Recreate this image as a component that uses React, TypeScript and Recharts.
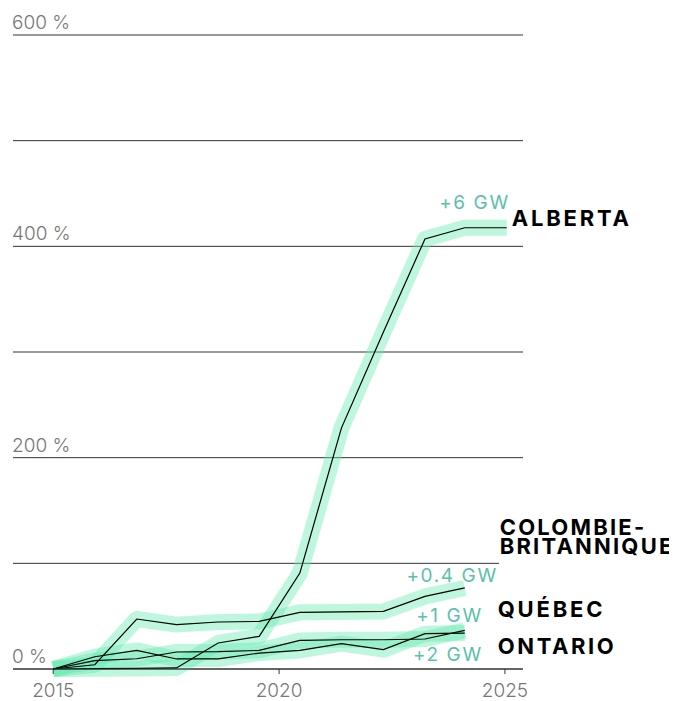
import { Line, LineChart, ReferenceLine, XAxis, YAxis } from "recharts";

// positions des relevés (en années) et variation de la capacité installée (%)
const years = [2015, 2015.92, 2016.85, 2017.73, 2018.65, 2019.56, 2020.46, 2021.38, 2022.31, 2023.23, 2024.11, 2025.04];
const alberta = [0, 0.3, 0.5, 1, 24.6, 30.9, 90.8, 228, 319, 407, 417.6, 417.6];
const colombieBritannique = [0, 4, 47.3, 42, 44.5, 45, 53.6, 54, 54.5, 68.7, 76.7, null];
const quebec = [0, 7.9, 9.7, 16.1, 16.4, 17.6, 27, 27.7, 27.7, 28.4, 36.5, null];
const ontario = [0, 11.6, 17.6, 9.5, 9.5, 15.1, 17.6, 24, 18.3, 33.4, 34, null];

const xTicks = [2015, 2020, 2025];
const yTicks = [0, 100, 200, 300, 400, 500, 600];
const yLabelled = [0, 200, 400, 600];

const rows = years.map((year, i) => ({
  year,
  alberta: alberta[i],
  cb: colombieBritannique[i],
  qc: quebec[i],
  on: ontario[i],
}));

const X_DOMAIN = [2014.11, 2025.4];
const X_SHORT_END = 2024.87; // fin de la ligne des 100 %, avant l'étiquette C.-B.

const FONT = "Inter, 'DejaVu Sans', sans-serif";
const TEAL = "#5cbfad";
const BAND = "rgba(100, 234, 176, 0.42)";
const GREY = "#777";

// textes de fin de courbe, décalages en px depuis le dernier point
const SERIES = [
  { key: "alberta", name: ["ALBERTA"], gain: "+6 GW", gainDx: 3, gainDy: -19, nameDx: 5, nameDy: -2, ls: 2.8 },
  { key: "cb", name: ["COLOMBIE-", "BRITANNIQUE"], gain: "+0.4 GW", gainDx: 33, gainDy: -6, nameDx: 35, nameDy: -53, ls: 2.2 },
  { key: "qc", name: ["QUÉBEC"], gain: "+1 GW", gainDx: 18, gainDy: -8, nameDx: 33, nameDy: -13, ls: 2.8 },
  { key: "on", name: ["ONTARIO"], gain: "+2 GW", gainDx: 18, gainDy: 28, nameDx: 33, nameDy: 21, ls: 2.6 },
];

function lastIndex(key: string) {
  let last = 0;
  rows.forEach((r: any, i) => {
    if (r[key] != null) last = i;
  });
  return last;
}

function endLabel(s: (typeof SERIES)[number]) {
  const last = lastIndex(s.key);
  return (p: any) => {
    if (p.index !== last) return null;
    return (
      <g key={`lbl-${s.key}`}>
        <text
          x={p.x + s.gainDx}
          y={p.y + s.gainDy}
          textAnchor="end"
          fill={TEAL}
          fontSize={19}
          letterSpacing={1.6}
          fontFamily={FONT}
        >
          {s.gain}
        </text>
        {s.name.map((line, j) => (
          <text
            key={j}
            x={p.x + s.nameDx}
            y={p.y + s.nameDy + j * 19.5}
            fill="#000"
            fontSize={22}
            fontWeight={700}
            letterSpacing={s.ls}
            fontFamily={FONT}
          >
            {line}
          </text>
        ))}
      </g>
    );
  };
}

function yLabel(v: number) {
  return (props: any) => {
    const vb = props.viewBox || {};
    return (
      <text x={vb.x - 1} y={vb.y - 6} fill={GREY} fontSize={19} fontWeight={300} fontFamily={FONT}>
        {`${v} %`}
      </text>
    );
  };
}

export default function App() {
  return (
    <div style={{ width: 669, height: 693, fontFamily: FONT }}>
      <LineChart width={669} height={693} data={rows} margin={{ top: 27, right: 154, bottom: 0, left: 5 }}>
        <XAxis
          dataKey="year"
          type="number"
          domain={X_DOMAIN}
          ticks={xTicks}
          interval={0}
          height={32}
          axisLine={{ stroke: "#333" }}
          tickLine={{ stroke: "#333" }}
          tickSize={5}
          tickMargin={10}
          tick={{ fill: GREY, fontSize: 19, fontWeight: 300, fontFamily: FONT }}
        />
        <YAxis
          type="number"
          domain={[0, 600]}
          ticks={yTicks}
          interval={0}
          width={0}
          axisLine={false}
          tickLine={false}
          tick={false}
        />
        {yTicks.map((v) =>
          v === 100 ? (
            <ReferenceLine
              key={v}
              segment={[
                { x: X_DOMAIN[0], y: v },
                { x: X_SHORT_END, y: v },
              ]}
              stroke="#333"
              strokeWidth={1}
            />
          ) : (
            <ReferenceLine
              key={v}
              y={v}
              stroke="#333"
              strokeWidth={1}
              label={yLabelled.includes(v) ? { content: yLabel(v) } : undefined}
            />
          )
        )}
        {SERIES.map((s) => (
          <Line
            key={`band-${s.key}`}
            dataKey={s.key}
            stroke={BAND}
            strokeWidth={16}
            strokeLinejoin="round"
            dot={false}
            activeDot={false}
            isAnimationActive={false}
          />
        ))}
        {SERIES.map((s) => (
          <Line
            key={`line-${s.key}`}
            dataKey={s.key}
            stroke="#000"
            strokeWidth={1.2}
            dot={false}
            activeDot={false}
            isAnimationActive={false}
            label={endLabel(s)}
          />
        ))}
      </LineChart>
    </div>
  );
}
